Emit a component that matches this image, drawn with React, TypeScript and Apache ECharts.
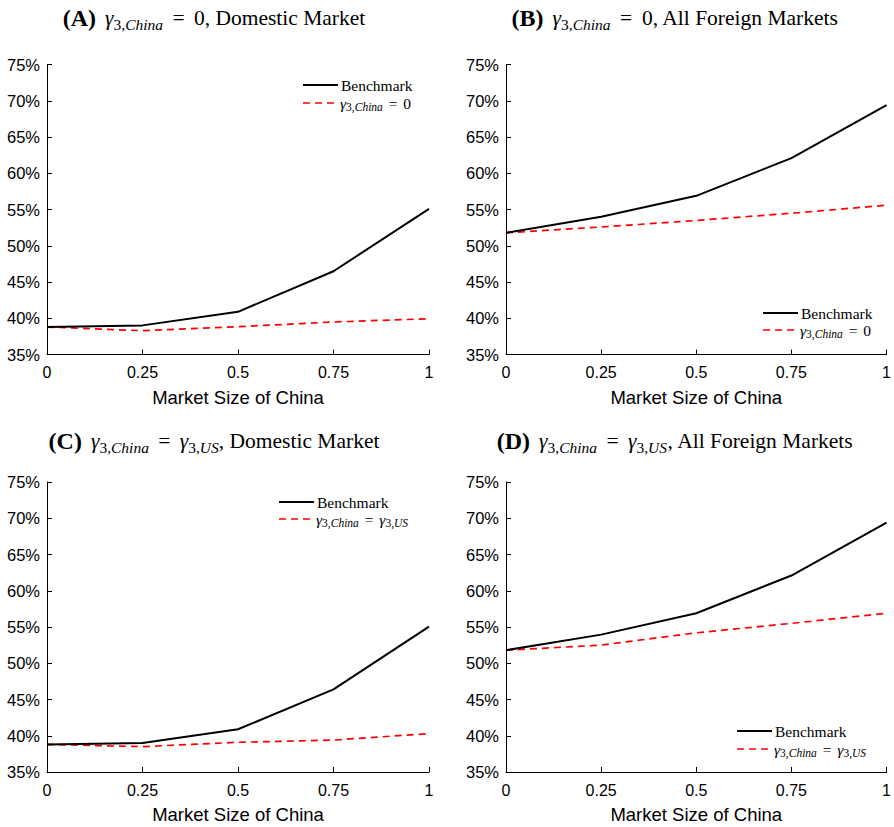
import React, { useEffect, useRef } from "react";
import * as echarts from "echarts";

const marketSize = [0, 0.25, 0.5, 0.75, 1];
const xTickLabels = ["0", "0.25", "0.5", "0.75", "1"];

const benchA = [38.8, 39.03, 40.9, 46.5, 55.1];
const redA = [38.8, 38.3, 38.85, 39.5, 39.95];
const benchB = [51.8, 54.0, 56.9, 62.1, 69.4];
const redB = [51.8, 52.6, 53.5, 54.5, 55.6];
const benchC = [38.8, 39.0, 40.9, 46.4, 55.05];
const redC = [38.8, 38.5, 39.1, 39.4, 40.3];
const benchD = [51.8, 53.95, 56.9, 62.1, 69.4];
const redD = [51.8, 52.5, 54.2, 55.5, 56.9];

const yMin = 35;
const yMax = 75;
const yStep = 5;

const SERIF = "'Liberation Serif', 'Times New Roman', serif";
const SANS = "'Liberation Sans', Arial, Helvetica, sans-serif";

const pair = (vals: number[]) => marketSize.map((x, i) => [x, vals[i]]);

export default function App() {
  const ref = useRef<HTMLDivElement>(null);
  useEffect(() => {
    if (!ref.current) return;
    const chart = echarts.init(ref.current, null, { renderer: "svg" });

    const grids = [
      { left: 47, top: 64.6, width: 382, height: 290 },
      { left: 506, top: 64.6, width: 382, height: 290 },
      { left: 47, top: 482, width: 382, height: 290 },
      { left: 506, top: 482, width: 382, height: 290 },
    ];

    const xAxes = grids.map((_, i) => ({
      type: "value",
      gridIndex: i,
      min: 0,
      max: 1,
      interval: 0.25,
      name: "Market Size of China",
      nameLocation: "middle",
      nameGap: 33,
      nameTextStyle: { fontFamily: SANS, fontSize: 18.5, color: "#000" },
      axisLine: { show: true, lineStyle: { color: "#000", width: 1 } },
      axisTick: { show: true, inside: true, length: 5, lineStyle: { color: "#000" } },
      axisLabel: {
        fontFamily: SANS,
        fontSize: 16,
        color: "#000",
        margin: 10,
        formatter: (v: number) => xTickLabels[marketSize.indexOf(v)] ?? String(v),
      },
      splitLine: { show: false },
    }));

    const yAxes = grids.map((_, i) => ({
      type: "value",
      gridIndex: i,
      min: yMin,
      max: yMax,
      interval: yStep,
      axisLine: { show: true, lineStyle: { color: "#000", width: 1 } },
      axisTick: { show: true, inside: true, length: 5, lineStyle: { color: "#000" } },
      axisLabel: {
        fontFamily: SANS,
        fontSize: 16.5,
        color: "#000",
        margin: 7,
        formatter: "{value}%",
      },
      splitLine: { show: false },
    }));

    const pairs: [number[], number[]][] = [
      [benchA, redA],
      [benchB, redB],
      [benchC, redC],
      [benchD, redD],
    ];
    const series: any[] = [];
    pairs.forEach(([b, r], i) => {
      series.push({
        type: "line",
        name: "Benchmark",
        xAxisIndex: i,
        yAxisIndex: i,
        data: pair(b),
        symbol: "none",
        lineStyle: { color: "#000", width: 2 },
        z: 3,
      });
      series.push({
        type: "line",
        name: i < 2 ? "γ3,China = 0" : "γ3,China = γ3,US",
        xAxisIndex: i,
        yAxisIndex: i,
        data: pair(r),
        symbol: "none",
        lineStyle: { color: "#ff0000", width: 1.7, type: [7, 5] },
        z: 2,
      });
    });

    const titleRich = {
      b: { fontFamily: SERIF, fontSize: 24, fontWeight: "bold", color: "#000", lineHeight: 28, verticalAlign: "middle", padding: [0, 9, 0, 0] },
      g: { fontFamily: SERIF, fontSize: 21.5, fontStyle: "italic", color: "#000", lineHeight: 28, verticalAlign: "middle" },
      s: { fontFamily: SERIF, fontSize: 15.5, color: "#000", lineHeight: 14, verticalAlign: "bottom" },
      si: { fontFamily: SERIF, fontSize: 15.5, fontStyle: "italic", color: "#000", lineHeight: 14, verticalAlign: "bottom" },
      e: { fontFamily: SERIF, fontSize: 21.5, color: "#000", lineHeight: 28, verticalAlign: "middle", padding: [0, 4, 0, 4] },
      n: { fontFamily: SERIF, fontSize: 21.5, color: "#000", lineHeight: 28, verticalAlign: "middle" },
    };
    const legRich = {
      n: { fontFamily: SERIF, fontSize: 15.5, color: "#000", lineHeight: 19, verticalAlign: "middle" },
      e: { fontFamily: SERIF, fontSize: 15.5, color: "#000", lineHeight: 19, verticalAlign: "middle", padding: [0, 2, 0, 2] },
      g: { fontFamily: SERIF, fontSize: 15.5, fontStyle: "italic", color: "#000", lineHeight: 19, verticalAlign: "middle" },
      s: { fontFamily: SERIF, fontSize: 11.5, color: "#000", lineHeight: 10, verticalAlign: "bottom" },
      si: { fontFamily: SERIF, fontSize: 11.5, fontStyle: "italic", color: "#000", lineHeight: 10, verticalAlign: "bottom" },
    };

    const titles = [
      { x: 214, y: 18, text: "{b|(A)}{g|γ}{s|3,}{si|China}{e| = }{n|0, Domestic Market}" },
      { x: 675, y: 18, text: "{b|(B)}{g|γ}{s|3,}{si|China}{e| = }{n|0, All Foreign Markets}" },
      { x: 214, y: 441, text: "{b|(C)}{g|γ}{s|3,}{si|China}{e| = }{g|γ}{s|3,}{si|US}{n|, Domestic Market}" },
      { x: 675, y: 441, text: "{b|(D)}{g|γ}{s|3,}{si|China}{e| = }{g|γ}{s|3,}{si|US}{n|, All Foreign Markets}" },
    ];

    const legends = [
      { x: 303, y: 85, dy: 18, label2: "{g|γ}{s|3,}{si|China}{e| = }{n|0}" },
      { x: 763, y: 313, dy: 17, label2: "{g|γ}{s|3,}{si|China}{e| = }{n|0}" },
      { x: 279, y: 502, dy: 17, label2: "{g|γ}{s|3,}{si|China}{e| = }{g|γ}{s|3,}{si|US}" },
      { x: 737, y: 731, dy: 18, label2: "{g|γ}{s|3,}{si|China}{e| = }{g|γ}{s|3,}{si|US}" },
    ];

    const graphic: any[] = [];
    titles.forEach((t) => {
      graphic.push({
        type: "text",
        x: t.x,
        y: t.y,
        style: { text: t.text, rich: titleRich, align: "center", verticalAlign: "middle" },
      });
    });
    legends.forEach((l) => {
      graphic.push({
        type: "line",
        shape: { x1: l.x, y1: l.y, x2: l.x + 35, y2: l.y },
        style: { stroke: "#000", lineWidth: 2 },
      });
      graphic.push({
        type: "text",
        x: l.x + 38,
        y: l.y,
        style: { text: "{n|Benchmark}", rich: legRich, align: "left", verticalAlign: "middle" },
      });
      graphic.push({
        type: "line",
        shape: { x1: l.x, y1: l.y + l.dy, x2: l.x + 35, y2: l.y + l.dy },
        style: { stroke: "#ff0000", lineWidth: 1.7, lineDash: [7, 5] },
      });
      graphic.push({
        type: "text",
        x: l.x + 37,
        y: l.y + l.dy,
        style: { text: l.label2, rich: legRich, align: "left", verticalAlign: "middle" },
      });
    });

    chart.setOption({
      animation: false,
      backgroundColor: "#fff",
      grid: grids,
      xAxis: xAxes,
      yAxis: yAxes,
      series,
      graphic,
    });
    return () => chart.dispose();
  }, []);

  return (
    <div
      ref={ref}
      style={{ position: "absolute", left: 0, top: 0, width: 894, height: 827 }}
    />
  );
}
